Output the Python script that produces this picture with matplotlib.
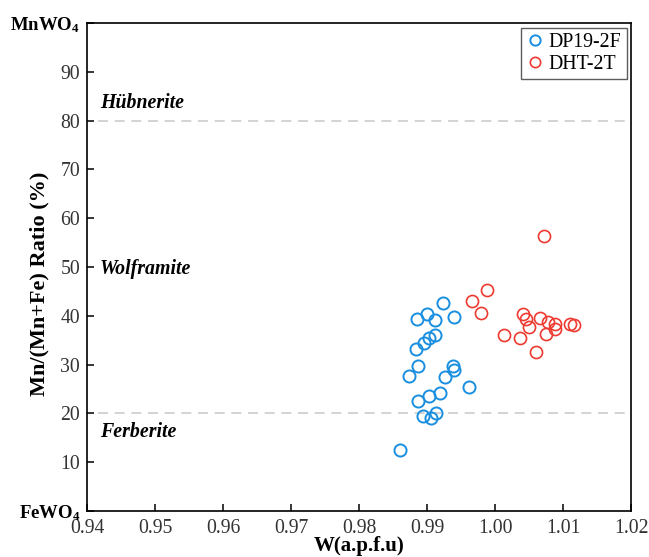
import numpy as np
import matplotlib
matplotlib.use('Agg')
import matplotlib.pyplot as plt

plt.rcParams['font.family'] = ['Liberation Serif', 'DejaVu Serif']
plt.rcParams['mathtext.fontset'] = 'custom'
plt.rcParams['mathtext.rm'] = 'Liberation Serif'
plt.rcParams['mathtext.bf'] = 'Liberation Serif:bold'

# DP19-2F
dp_w = [0.9923, 0.9885, 0.9899, 0.9911, 0.9939, 0.9911, 0.9903, 0.9895, 0.9883, 0.9886, 0.9873,
        0.9938, 0.9939, 0.9926, 0.9961, 0.9918, 0.9902, 0.9886, 0.9913, 0.9894, 0.9906, 0.9860]
dp_mn = [42.6, 39.3, 40.3, 39.1, 39.7, 36.1, 35.4, 34.5, 33.1, 29.7, 27.7,
         29.8, 28.8, 27.5, 25.4, 24.2, 23.6, 22.5, 20.1, 19.5, 19.1, 12.6]

# DHT-2T
dht_w = [1.0071, 0.9987, 0.9966, 0.9979, 1.0041, 1.0045, 1.0049, 1.0066, 1.0077, 1.0088,
         1.0087, 1.0074, 1.0109, 1.0116, 1.0012, 1.0036, 1.0059]
dht_mn = [56.4, 45.3, 43.0, 40.5, 40.4, 39.3, 37.7, 39.5, 38.8, 38.3,
          37.2, 36.3, 38.3, 38.1, 36.1, 35.4, 32.5]

xticks = [0.94, 0.95, 0.96, 0.97, 0.98, 0.99, 1.00, 1.01, 1.02]
yticks = [0, 10, 20, 30, 40, 50, 60, 70, 80, 90, 100]
ylabels = [r'$\mathbf{FeWO_4}$', '10', '20', '30', '40', '50', '60', '70', '80', '90', r'$\mathbf{MnWO_4}$']

fig = plt.figure(figsize=(6.49, 5.57), dpi=100)
ax = fig.add_axes([0.134, 0.0826, 0.839, 0.876])

ax.axhline(80, xmin=0.02, xmax=1, ls=(0, (6, 4)), c='#cccccc', lw=1.2, zorder=1)
ax.axhline(20, xmin=0.02, xmax=1, ls=(0, (6, 4)), c='#cccccc', lw=1.2, zorder=1)

ax.plot(dp_w, dp_mn, ls='none', marker='o', ms=8.7, mfc='none', mec='#1a8fe0', mew=1.4, label='DP19-2F', zorder=3)
ax.plot(dht_w, dht_mn, ls='none', marker='o', ms=8.7, mfc='none', mec='#ee3a30', mew=1.2, label='DHT-2T', zorder=3)

ax.text(0.9419, 83.6, 'Hübnerite', fontsize=14.3, fontweight='bold', style='italic', va='center', ha='left')
ax.text(0.9419, 49.6, 'Wolframite', fontsize=14.3, fontweight='bold', style='italic', va='center', ha='left')
ax.text(0.9419, 16.2, 'Ferberite', fontsize=14.3, fontweight='bold', style='italic', va='center', ha='left')

ax.set_xlim(0.94, 1.02)
ax.set_ylim(0, 100)
ax.set_xticks(xticks)
ax.set_xticklabels(['{:.2f}'.format(v) for v in xticks])
ax.set_yticks(yticks)
ax.set_yticklabels(ylabels)
ax.tick_params(direction='in', length=5, width=1.1, labelsize=14.2, labelcolor='#333333')
ax.tick_params(axis='x', pad=6)
ax.tick_params(axis='y', pad=5)
for lab in ax.get_yticklabels():
    if 'WO' in lab.get_text():
        lab.set_color('black')
        lab.set_fontsize(13.5)

for spi in ['bottom', 'left', 'top', 'right']:
    ax.spines[spi].set_linewidth(1.2)

ax.set_ylabel('Mn/(Mn+Fe) Ratio (%)', fontsize=16, fontweight='bold')
ax.yaxis.set_label_coords(-0.068, 0.465)
ax.set_xlabel('W(a.p.f.u)', fontsize=15, fontweight='bold')
ax.xaxis.set_label_coords(0.5, -0.083)
ax.xaxis.label.set_va('baseline')

leg = ax.legend(loc='upper right', fontsize=14.3, fancybox=False, edgecolor='#333333',
                handletextpad=0.25, borderpad=0.25, labelspacing=0.15, handlelength=0.9,
                borderaxespad=0.25, markerscale=0.85)
leg.get_frame().set_linewidth(1.0)

fig.savefig('out.png', dpi=100)
